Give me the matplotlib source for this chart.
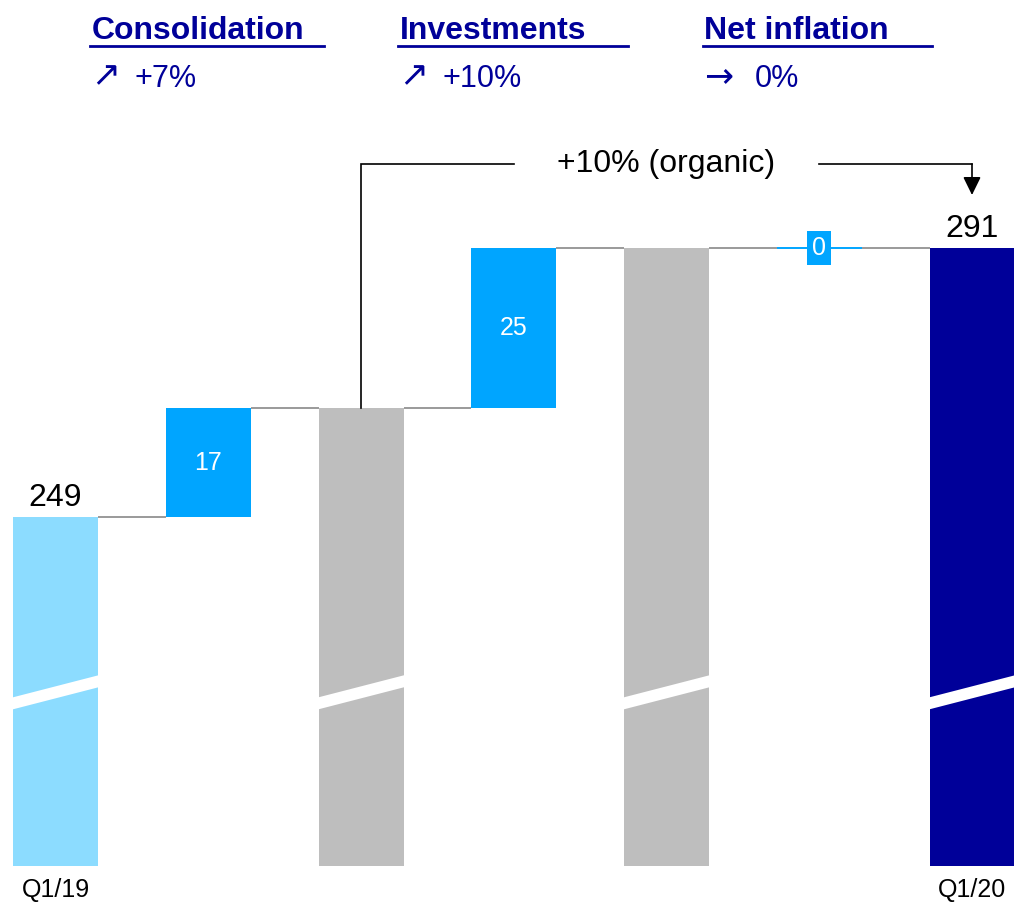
import matplotlib
matplotlib.use("Agg")
import matplotlib.pyplot as plt
from matplotlib.patches import Polygon

plt.rcParams['font.family'] = ['Liberation Sans', 'DejaVu Sans']

# ---------------- data ----------------
categories = ["Q1/19", "", "", "", "", "", "Q1/20"]
bar_kinds = ["start", "delta", "subtotal", "delta", "subtotal", "delta", "end"]
start_value = 249
deltas = [17, 25, 0]
end_value = 291

header_titles = ["Consolidation", "Investments", "Net inflation"]
header_arrows = ["\u2197", "\u2197", "\u2192"]
header_values = ["+7%", "+10%", "0%"]
bracket_label = "+10% (organic)"

# ---------------- style ----------------
C_START = "#8CDCFF"
C_DELTA = "#00A5FF"
C_SUB = "#BEBEBE"
C_END = "#000099"
C_NAVY = "#000099"
C_CONN = "#7F7F7F"

W, H = 1014, 909
fig = plt.figure(figsize=(W / 100, H / 100), dpi=100)
ax = fig.add_axes([0, 43 / H, 1, 866 / H])

px_per_unit = 6.405
spacing_px = 152.75
x0_px = 55.5
ax.set_xlim(-x0_px / spacing_px, (W - x0_px) / spacing_px)
ylow = start_value - (866 - 517) / px_per_unit
yhigh = start_value + 517 / px_per_unit
ax.set_ylim(ylow, yhigh)
for s in ax.spines.values():
    s.set_visible(False)
ax.set_yticks([])

# ---------------- build waterfall ----------------
bottoms, heights, colors = [], [], []
running = start_value
di = 0
for k in bar_kinds:
    if k == "start":
        bottoms.append(0); heights.append(start_value); colors.append(C_START)
    elif k == "delta":
        d = deltas[di]; di += 1
        bottoms.append(running); heights.append(d); colors.append(C_DELTA)
        running += d
    elif k == "subtotal":
        bottoms.append(0); heights.append(running); colors.append(C_SUB)
    else:
        bottoms.append(0); heights.append(end_value); colors.append(C_END)

xs = list(range(len(categories)))
bw = 85 / spacing_px
for x, b, h, c, k in zip(xs, bottoms, heights, colors, bar_kinds):
    if h == 0:
        ax.plot([x - bw / 2, x + bw / 2], [b, b], color=c, lw=1.4, zorder=3, solid_capstyle="butt")
    else:
        ax.bar(x, h, bottom=b, width=bw, color=c, linewidth=0, zorder=3)

# connectors
tops = [b + h for b, h in zip(bottoms, heights)]
for i in range(len(xs) - 1):
    lvl = tops[i] if bar_kinds[i + 1] != "delta" else bottoms[i + 1]
    ax.plot([xs[i] + bw / 2, xs[i + 1] - bw / 2], [lvl, lvl], color=C_CONN, lw=1.1, zorder=2,
            solid_capstyle="butt")

# axis-break marks on full bars
brk_left = start_value - (697.7 - 517) / px_per_unit
brk_right = start_value - (675 - 517) / px_per_unit
brk_th = 12 / px_per_unit
ext = 0.01
for x, k in zip(xs, bar_kinds):
    if k != "delta":
        xl, xr = x - bw / 2 - ext, x + bw / 2 + ext
        poly = Polygon([(xl, brk_left), (xr, brk_right), (xr, brk_right - brk_th), (xl, brk_left - brk_th)],
                       closed=True, facecolor="white", edgecolor="none", zorder=4)
        ax.add_patch(poly)

# value labels
di = 0
for x, b, h, k in zip(xs, bottoms, heights, bar_kinds):
    if k in ("start", "end"):
        ax.annotate(f"{h:g}", (x, b + h), xytext=(0, 3), textcoords="offset points",
                    ha="center", va="bottom", fontsize=23, color="black", zorder=5)
    elif k == "delta":
        d = deltas[di]; di += 1
        if d != 0:
            ax.text(x, b + h / 2, f"{d:g}", ha="center", va="center", fontsize=18, color="white", zorder=5)
        else:
            ax.text(x, b, f"{d:g}", ha="center", va="center", fontsize=18, color="white", zorder=5,
                    bbox=dict(boxstyle="square,pad=0.2", facecolor=C_DELTA, edgecolor="none"))

# x labels
ax.set_xticks(xs)
ax.set_xticklabels(categories, fontsize=18)
ax.tick_params(axis="x", length=0, pad=9)

# bracket "+10% (organic)"
i_from = bar_kinds.index("subtotal")
i_to = len(xs) - 1
bracket_y = end_value + (248 - 164) / px_per_unit
arrow_tip = end_value + (248 - 195) / px_per_unit
mid = (xs[i_from] + xs[i_to]) / 2
ax.plot([xs[i_from], xs[i_from], mid - 1.0], [tops[i_from], bracket_y, bracket_y],
        color="black", lw=1.2, zorder=5, solid_joinstyle="miter")
ax.plot([mid + 1.0, xs[i_to]], [bracket_y, bracket_y], color="black", lw=1.2, zorder=5)
ax.annotate("", xy=(xs[i_to], arrow_tip), xytext=(xs[i_to], bracket_y),
            arrowprops=dict(arrowstyle="-|>,head_length=0.55,head_width=0.27", mutation_scale=20,
                            color="black", lw=1.2, shrinkA=0, shrinkB=0), zorder=5)
ax.text(mid, bracket_y, bracket_label, ha="center", va="center", fontsize=23, color="black", zorder=5)

# ---------------- header ----------------
hx = [92, 400, 704]
ul = [(90, 324), (398, 628), (703, 932)]
arrow_x = [91, 399, 704]
val_x = [135, 442, 755]
for t, a, v, x, (u0, u1), axx, vx in zip(header_titles, header_arrows, header_values, hx, ul, arrow_x, val_x):
    fig.text(x / W, 1 - 39 / H, t, fontsize=23, fontweight="bold", color=C_NAVY, ha="left", va="baseline")
    fig.add_artist(plt.Line2D([u0 / W, u1 / W], [1 - 46 / H, 1 - 46 / H], color=C_NAVY, lw=2.0,
                              transform=fig.transFigure))
    fig.text(axx / W, 1 - 86 / H, a, fontsize=25, color=C_NAVY, ha="left", va="baseline",
             family=["DejaVu Sans"])
    fig.text(vx / W, 1 - 87 / H, v, fontsize=22, color=C_NAVY, ha="left", va="baseline")

fig.savefig("out.png", dpi=100)
